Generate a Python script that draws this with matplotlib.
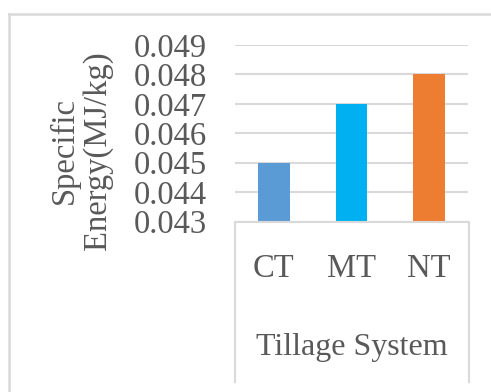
import matplotlib
matplotlib.use("Agg")
import matplotlib.pyplot as plt
from matplotlib.lines import Line2D

categories = ["CT", "MT", "NT"]
values = [0.045, 0.047, 0.048]
colors = ["#5B9BD5", "#00B0F0", "#ED7D31"]
yticks = [0.043, 0.044, 0.045, 0.046, 0.047, 0.048, 0.049]
ylabel = "Specific\nEnergy(MJ/kg)"
xlabel = "Tillage System"

W, H = 491, 392
plt.rcParams["font.family"] = ["Liberation Serif", "DejaVu Serif"]
text_color = "#595959"
line_color = "#D9D9D9"

fig = plt.figure(figsize=(W / 100, H / 100), dpi=100)

def fx(px):
    return px / W

def fy(py):
    return 1 - py / H

# plot area
left, right, top, bottom = 235, 468, 45, 221.5
ax = fig.add_axes([fx(left), fy(bottom), fx(right) - fx(left), fy(top) - fy(bottom)])
x = range(len(categories))
ax.bar(x, values, width=0.41, color=colors, zorder=3)
ax.set_xlim(-0.5, len(categories) - 0.5)
ax.set_ylim(yticks[0], yticks[-1])
ax.set_yticks(yticks)
ax.set_yticklabels([f"{v:.3f}" for v in yticks], fontsize=23.5, color=text_color)
ax.tick_params(axis="y", length=0, pad=20)
ax.tick_params(axis="x", length=0)
ax.set_xticks([])
ax.grid(axis="y", color=line_color, linewidth=1.5, zorder=0)
for s in ax.spines.values():
    s.set_visible(False)

# outer chart frame
fig.add_artist(Line2D([fx(9), fx(9)], [fy(14), fy(H + 5)], color=line_color, lw=1.8,
                      transform=fig.transFigure))
fig.add_artist(Line2D([fx(9), fx(W + 5)], [fy(14), fy(14)], color=line_color, lw=1.8,
                      transform=fig.transFigure))

# category box below the plot area
fig.add_artist(Line2D([fx(left), fx(left), fx(right + 1), fx(right + 1)],
                      [fy(382), fy(222), fy(222), fy(382)], color=line_color, lw=1.5,
                      transform=fig.transFigure))

# category labels
for i, c in enumerate(categories):
    xf = ax.transData.transform((i, 0))[0] / fig.bbox.width
    fig.text(xf, fy(269), c, fontsize=23.5, color=text_color, ha="center", va="center")

fig.text(fx(352), fy(348), xlabel, fontsize=23, color=text_color, ha="center", va="center")
fig.text(fx(81), fy(151), ylabel, fontsize=23.5, color=text_color, ha="center", va="center",
         rotation=90, linespacing=1.1, multialignment="center")

fig.savefig("out.png", dpi=100)
